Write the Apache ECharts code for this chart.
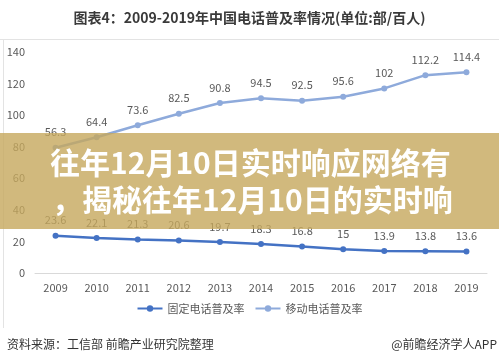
<!DOCTYPE html>
<html><head><meta charset="utf-8">
<script src="https://cdn.jsdelivr.net/npm/echarts@6/dist/echarts.min.js"></script>
<style>html,body{margin:0;padding:0;background:#fff}#c{width:499px;height:364px}</style>
</head><body><div id="c"></div>
<script>
const years = ['2009','2010','2011','2012','2013','2014','2015','2016','2017','2018','2019'];
const fixedRate = [23.6, 22.1, 21.3, 20.6, 19.7, 18.3, 16.8, 15, 13.9, 13.8, 13.6];
const mobileRate = [56.3, 64.4, 73.6, 82.5, 90.8, 94.5, 92.5, 95.6, 102, 112.2, 114.4];
const seriesNames = ['固定电话普及率', '移动电话普及率'];
const titleText = '图表4：2009-2019年中国电话普及率情况(单位:部/百人)';
const overlayLine1 = '往年12月10日实时响应网络有';
const overlayLine2 = '，揭秘往年12月10日的实时响';
const sourceText = '资料来源：工信部 前瞻产业研究院整理';
const brandText = '@前瞻经济学人APP';

const FONT = '"Noto Sans CJK SC", "Microsoft YaHei", sans-serif';
const chart = echarts.init(document.getElementById('c'), null, {renderer:'canvas'});
chart.setOption({
  animation: false,
  backgroundColor: '#fff',
  textStyle: {fontFamily: FONT},
  title: {text: titleText, left: 'center', top: 6,
    textStyle: {fontSize: 14, fontWeight: 'bold', color: '#3a3a3a', fontFamily: FONT}},
  grid: {left: 35, right: 12, top: 52, bottom: 91},
  legend: {bottom: 45, left: 'center', itemWidth: 25, itemHeight: 8, itemGap: 10,
    textStyle: {fontSize: 11, color: '#595959', fontFamily: FONT},
    data: seriesNames},
  xAxis: {type: 'category', data: years, boundaryGap: true,
    axisLine: {lineStyle: {color: '#d9d9d9'}}, axisTick: {show: false},
    axisLabel: {fontSize: 11, color: '#595959', margin: 9}},
  yAxis: [
    {type: 'value', min: 0, max: 140, interval: 20,
      splitLine: {show: false}, axisLine: {show: false}, axisTick: {show: false},
      axisLabel: {fontSize: 11, color: '#595959', margin: 10}},
    {type: 'value', min: -40, max: 130, show: false, splitLine: {show: false}}
  ],
  series: [
    {name: seriesNames[0], type: 'line', data: fixedRate, yAxisIndex: 0,
      color: '#4472c4', symbol: 'circle', symbolSize: 6, lineStyle: {width: 2.5},
      label: {show: true, position: 'top', distance: 7, fontSize: 11, color: '#595959'}},
    {name: seriesNames[1], type: 'line', data: mobileRate, yAxisIndex: 1,
      color: '#8eaadb', symbol: 'circle', symbolSize: 6, lineStyle: {width: 2.5},
      label: {show: true, position: 'top', distance: 7, fontSize: 11, color: '#595959'}}
  ],
  graphic: [
    {type: 'line', z: 50, shape: {x1: 0, y1: 39.5, x2: 499, y2: 39.5}, style: {stroke: '#e3e3e3', lineWidth: 1}},
    {type: 'line', z: 50, shape: {x1: 3.5, y1: 39, x2: 3.5, y2: 328}, style: {stroke: '#e3e3e3', lineWidth: 1}},
    {type: 'rect', z: 100, shape: {x: 0, y: 133, width: 499, height: 96},
      style: {fill: 'rgba(198,168,92,0.8)'}},
    {type: 'text', z: 101, left: 50, top: 148,
      style: {text: overlayLine1, fill: '#fff', font: 'bold 30px ' + FONT,
        shadowColor: 'rgba(0,0,0,0.25)', shadowBlur: 3}},
    {type: 'text', z: 101, left: 52, top: 185,
      style: {text: overlayLine2, fill: '#fff', font: 'bold 30px ' + FONT,
        shadowColor: 'rgba(0,0,0,0.25)', shadowBlur: 3}},
    {type: 'text', z: 101, left: 7, top: 338,
      style: {text: sourceText, fill: '#333', font: '12px ' + FONT}},
    {type: 'text', z: 101, right: 2, top: 338,
      style: {text: brandText, fill: '#333', font: '12px ' + FONT}}
  ]
});
</script></body></html>
